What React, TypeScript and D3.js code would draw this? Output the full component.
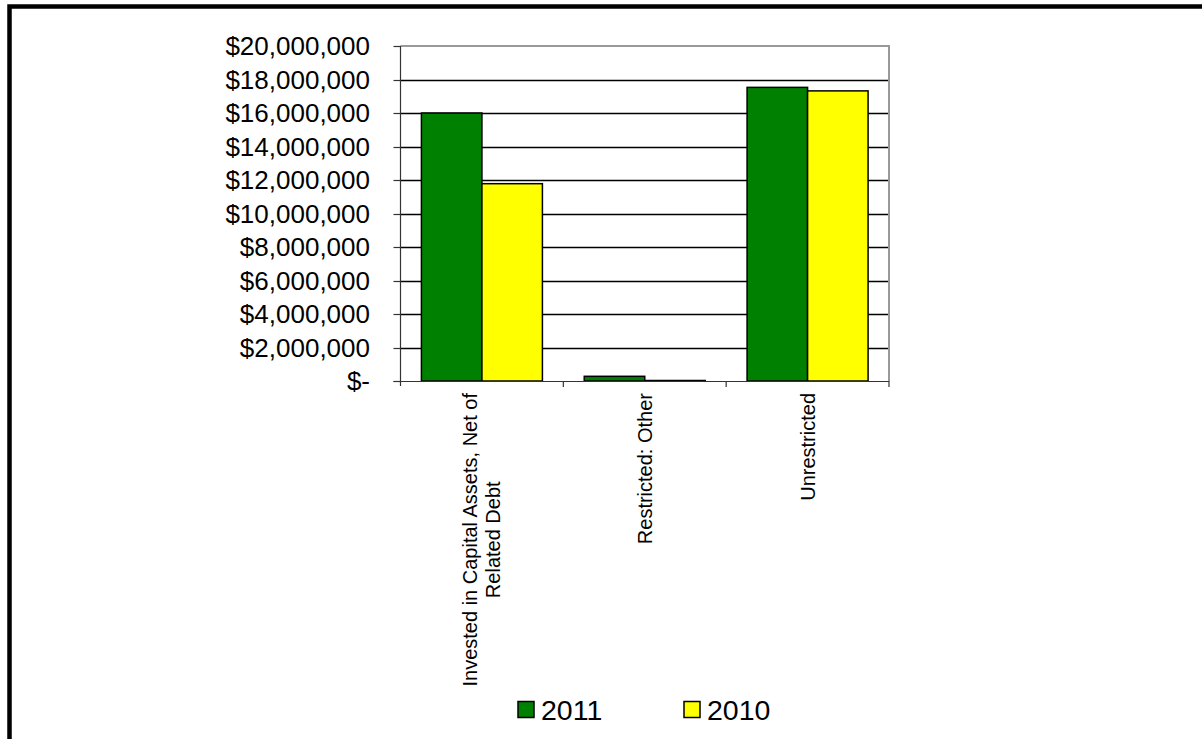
import React, { useEffect, useRef } from "react";
import * as d3 from "d3";

const categories: string[][] = [
  ["Invested in Capital Assets, Net of", "Related Debt"],
  ["Restricted: Other"],
  ["Unrestricted"],
];
const seriesNames = ["2011", "2010"];
const values2011 = [16000000, 280000, 17530000];
const values2010 = [11780000, 30000, 17320000];
const seriesColors = ["#008000", "#FFFF00"];
const yTicks = [0, 2000000, 4000000, 6000000, 8000000, 10000000, 12000000, 14000000, 16000000, 18000000, 20000000];

const W = 1202;
const H = 739;
const FONT = "'Liberation Sans', Arial, sans-serif";

export default function App() {
  const ref = useRef<SVGSVGElement | null>(null);

  useEffect(() => {
    const svg = d3.select(ref.current);
    svg.selectAll("*").remove();

    const left = 400.5, right = 889, top = 46, bottom = 381;
    const x = d3.scaleBand<number>().domain(d3.range(categories.length)).range([left, right]).paddingInner(0).paddingOuter(0);
    const xs = d3.scaleBand<number>().domain([0, 1]).range([0, 121]);
    const y = d3.scaleLinear().domain([0, 20000000]).range([bottom, top]);

    // outer border
    svg.append("path")
      .attr("d", `M9.5,${H + 10} L9.5,6.5 L${W + 10},6.5`)
      .attr("fill", "none").attr("stroke", "#000").attr("stroke-width", 4.5);

    // gridlines
    svg.append("g").selectAll("line").data(yTicks.filter(t => t > 0 && t < 20000000)).join("line")
      .attr("x1", left).attr("x2", right)
      .attr("y1", d => Math.round(y(d)) + 0.5).attr("y2", d => Math.round(y(d)) + 0.5)
      .attr("stroke", "#000").attr("stroke-width", 1.6);

    // plot border top/right (gray)
    svg.append("path")
      .attr("d", `M${left},${top} L${right},${top} L${right},${bottom}`)
      .attr("fill", "none").attr("stroke", "#999").attr("stroke-width", 2);

    // bars
    const seriesData = [values2011, values2010];
    const bars = svg.append("g");
    seriesData.forEach((vals, s) => {
      bars.selectAll(`rect.s${s}`).data(vals).join("rect")
        .attr("class", `s${s}`)
        .attr("x", (_, i) => (x(i) as number) + (x.bandwidth() - 121) / 2 + (xs(s) as number))
        .attr("y", d => y(d))
        .attr("width", xs.bandwidth())
        .attr("height", d => Math.max(0, bottom - y(d)))
        .attr("fill", seriesColors[s])
        .attr("stroke", "#000").attr("stroke-width", 1.5);
    });

    // axes lines
    svg.append("line").attr("x1", left).attr("x2", left).attr("y1", top).attr("y2", bottom + 5)
      .attr("stroke", "#333").attr("stroke-width", 1.2);
    svg.append("line").attr("x1", left - 7).attr("x2", right).attr("y1", bottom + 0.5).attr("y2", bottom + 0.5)
      .attr("stroke", "#333").attr("stroke-width", 1.2);

    // y ticks
    const fmt = d3.format(",");
    const yt = svg.append("g");
    yt.selectAll("line").data(yTicks).join("line")
      .attr("x1", left - 7).attr("x2", left)
      .attr("y1", d => Math.round(y(d)) + 0.5).attr("y2", d => Math.round(y(d)) + 0.5)
      .attr("stroke", "#333").attr("stroke-width", 1.2);
    yt.selectAll("text").data(yTicks).join("text")
      .attr("x", 370).attr("y", d => y(d)).attr("dy", "0.36em")
      .attr("text-anchor", "end")
      .style("font-family", FONT).style("font-size", "26px").attr("fill", "#000")
      .text(d => (d === 0 ? "$-" : "$" + fmt(d)));

    // x ticks at category boundaries
    const bounds = d3.range(categories.length + 1).map(i => left + i * x.step());
    svg.append("g").selectAll("line").data(bounds.slice(1)).join("line")
      .attr("x1", d => d).attr("x2", d => d).attr("y1", bottom).attr("y2", bottom + 6)
      .attr("stroke", "#333").attr("stroke-width", 1.2);

    // x labels rotated
    const lineH = 23;
    const topY = 393;
    categories.forEach((lines, i) => {
      const cx = (x(i) as number) + x.bandwidth() / 2;
      const g = svg.append("g");
      const texts = lines.map((ln) =>
        g.append("text").style("font-family", FONT).style("font-size", "20px").attr("fill", "#000").attr("text-anchor", "middle").text(ln)
      );
      const maxW = d3.max(texts.map(t => (t.node() as SVGTextElement).getComputedTextLength())) || 0;
      const centerY = topY + maxW / 2;
      const n = lines.length;
      texts.forEach((t, k) => {
        const bx = cx + 7 + (k - (n - 1) / 2) * lineH;
        t.attr("transform", `translate(${bx},${centerY}) rotate(-90)`);
      });
    });

    // legend
    const legX = [518, 684];
    const lg = svg.append("g");
    seriesNames.forEach((name, s) => {
      lg.append("rect").attr("x", legX[s]).attr("y", 701.5).attr("width", 16).attr("height", 16)
        .attr("fill", seriesColors[s]).attr("stroke", "#000").attr("stroke-width", 1.5);
      lg.append("text").attr("x", legX[s] + 23).attr("y", 720)
        .style("font-family", FONT).style("font-size", "28.5px").attr("fill", "#000").text(name);
    });
  }, []);

  return (
    <svg ref={ref} width={W} height={H} style={{ position: "absolute", left: 0, top: 0, background: "#fff" }} />
  );
}
